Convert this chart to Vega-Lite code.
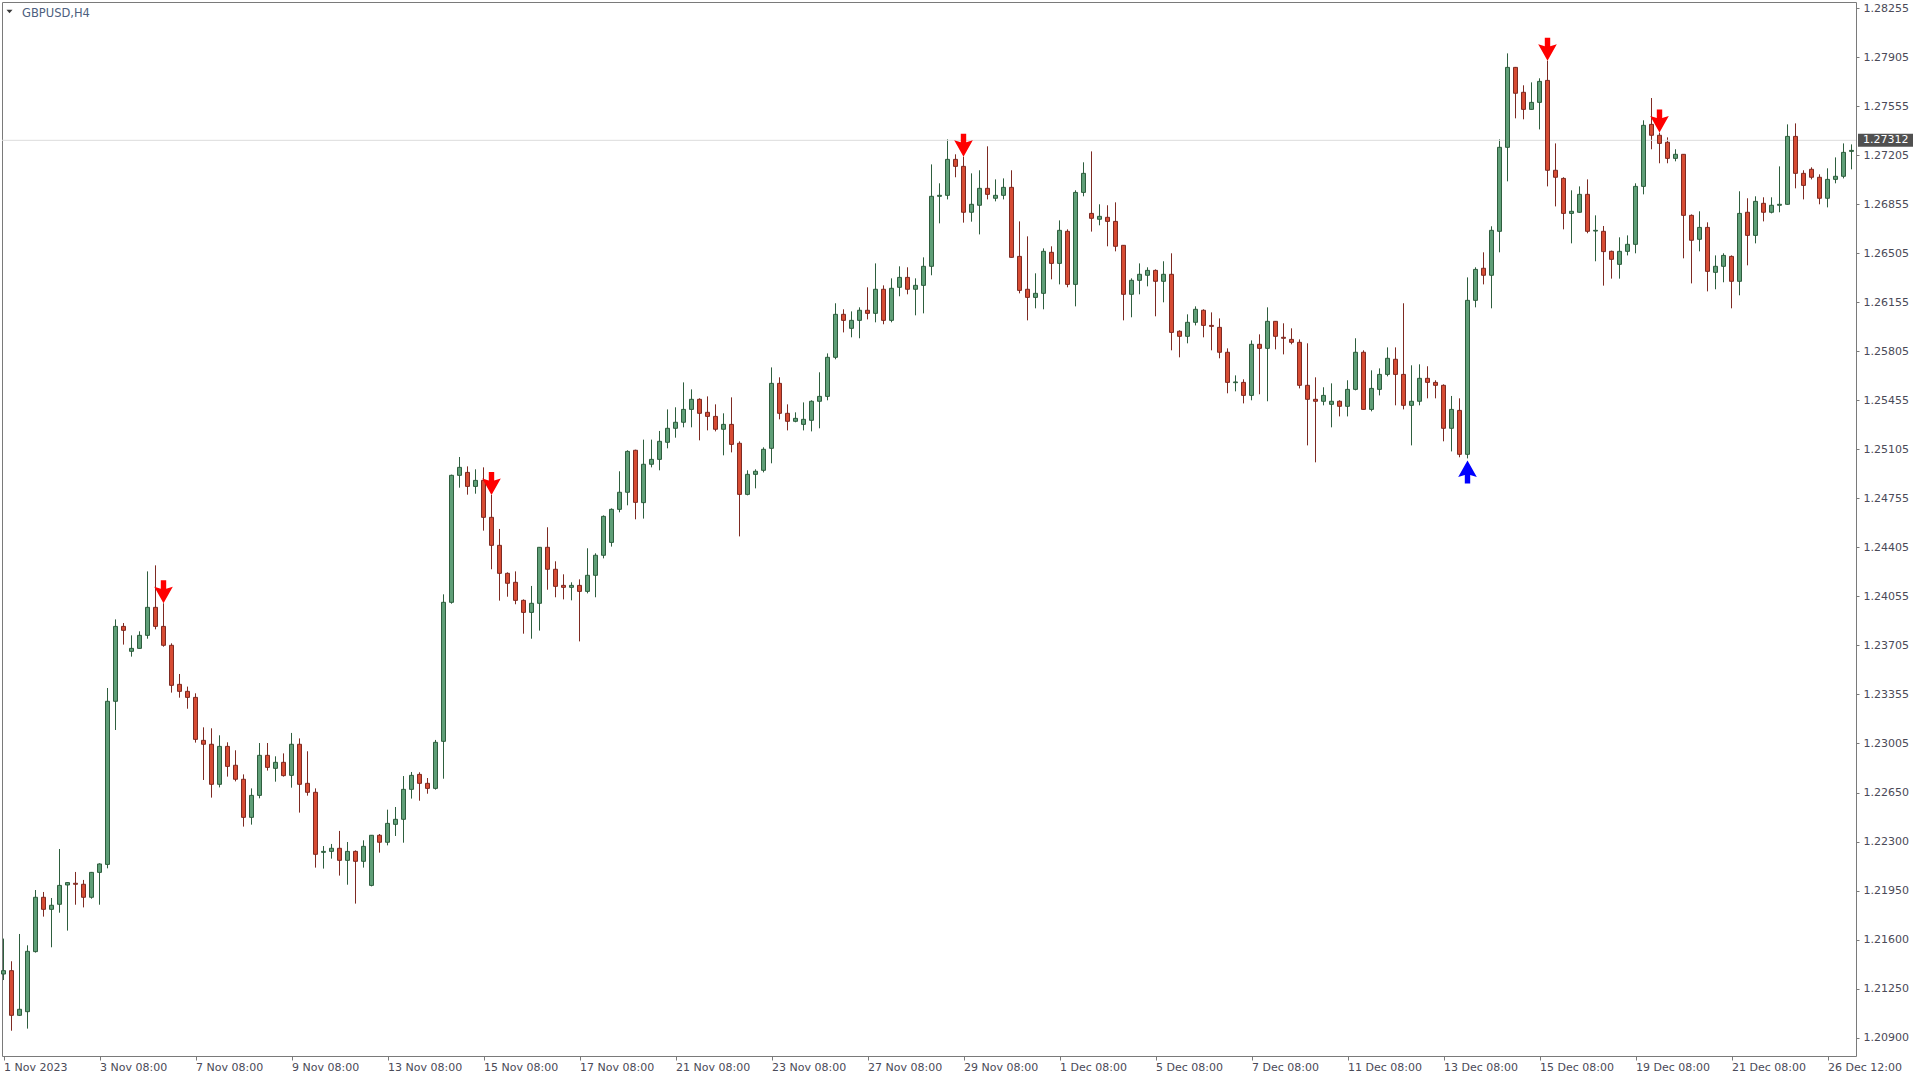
{
"$schema": "https://vega.github.io/schema/vega-lite/v6.json",
"width": 1854,
"height": 1054,
"autosize": {"type": "none"},
"padding": {"left": 2, "top": 2, "right": 64, "bottom": 24},
"background": "white",
"config": {
"view": {"stroke": "#7a7a7a", "strokeWidth": 1},
"font": "DejaVu Sans",
"scale": {"continuousPadding": 0},
"axis": {"grid": false, "domain": false, "tickColor": "#7a7a7a", "labelFont": "DejaVu Sans", "labelFontSize": 11, "labelColor": "#4a4a58", "labelOverlap": false, "labelBound": false, "labelFlush": false},
"axisX": {"tickSize": 4, "labelPadding": 1, "labelAlign": "left", "labelBaseline": "top"},
"axisY": {"tickSize": 3, "labelPadding": 4, "labelAlign": "left", "labelBaseline": "middle"}
},
"datasets": {
"px": [{"p": 1.27312}],
"sym": [{"name": "GBPUSD,H4"}],
"bars": [
{"i":0,"o":1.21357,"h":1.21610,"l":1.21314,"c":1.21381},
{"i":1,"o":1.21381,"h":1.21448,"l":1.20952,"c":1.21062},
{"i":2,"o":1.21062,"h":1.21643,"l":1.21057,"c":1.21105},
{"i":3,"o":1.21088,"h":1.21562,"l":1.20967,"c":1.21519},
{"i":4,"o":1.21517,"h":1.21957,"l":1.21510,"c":1.21905},
{"i":5,"o":1.21905,"h":1.21943,"l":1.21767,"c":1.21819},
{"i":6,"o":1.21819,"h":1.21900,"l":1.21548,"c":1.21848},
{"i":7,"o":1.21855,"h":1.22250,"l":1.21795,"c":1.21990},
{"i":8,"o":1.21993,"h":1.22014,"l":1.21667,"c":1.22010},
{"i":9,"o":1.22005,"h":1.22086,"l":1.21852,"c":1.21998},
{"i":10,"o":1.21998,"h":1.22029,"l":1.21833,"c":1.21905},
{"i":11,"o":1.21905,"h":1.22086,"l":1.21895,"c":1.22083},
{"i":12,"o":1.22083,"h":1.22148,"l":1.21852,"c":1.22143},
{"i":13,"o":1.22140,"h":1.23400,"l":1.22112,"c":1.23305},
{"i":14,"o":1.23305,"h":1.23890,"l":1.23100,"c":1.23840},
{"i":15,"o":1.23840,"h":1.23864,"l":1.23710,"c":1.23812},
{"i":16,"o":1.23662,"h":1.23776,"l":1.23624,"c":1.23683},
{"i":17,"o":1.23683,"h":1.23805,"l":1.23681,"c":1.23776},
{"i":18,"o":1.23776,"h":1.24233,"l":1.23752,"c":1.23976},
{"i":19,"o":1.23976,"h":1.24276,"l":1.23819,"c":1.23840},
{"i":20,"o":1.23840,"h":1.24005,"l":1.23695,"c":1.23705,"s":"d"},
{"i":21,"o":1.23705,"h":1.23719,"l":1.23367,"c":1.23419},
{"i":22,"o":1.23426,"h":1.23500,"l":1.23331,"c":1.23376},
{"i":23,"o":1.23376,"h":1.23410,"l":1.23252,"c":1.23333},
{"i":24,"o":1.23333,"h":1.23362,"l":1.23010,"c":1.23033},
{"i":25,"o":1.23026,"h":1.23119,"l":1.22743,"c":1.22998},
{"i":26,"o":1.22998,"h":1.23112,"l":1.22617,"c":1.22712},
{"i":27,"o":1.22712,"h":1.23062,"l":1.22690,"c":1.22983},
{"i":28,"o":1.22983,"h":1.23012,"l":1.22767,"c":1.22840},
{"i":29,"o":1.22848,"h":1.22955,"l":1.22733,"c":1.22748},
{"i":30,"o":1.22748,"h":1.22783,"l":1.22410,"c":1.22476},
{"i":31,"o":1.22476,"h":1.22683,"l":1.22424,"c":1.22633},
{"i":32,"o":1.22633,"h":1.23007,"l":1.22612,"c":1.22919},
{"i":33,"o":1.22919,"h":1.23007,"l":1.22810,"c":1.22833},
{"i":34,"o":1.22826,"h":1.22912,"l":1.22731,"c":1.22869},
{"i":35,"o":1.22869,"h":1.22933,"l":1.22767,"c":1.22774},
{"i":36,"o":1.22776,"h":1.23079,"l":1.22688,"c":1.22998},
{"i":37,"o":1.22998,"h":1.23040,"l":1.22510,"c":1.22712},
{"i":38,"o":1.22719,"h":1.22948,"l":1.22631,"c":1.22655},
{"i":39,"o":1.22655,"h":1.22683,"l":1.22117,"c":1.22212},
{"i":40,"o":1.22226,"h":1.22271,"l":1.22110,"c":1.22233},
{"i":41,"o":1.22233,"h":1.22286,"l":1.22181,"c":1.22255},
{"i":42,"o":1.22255,"h":1.22379,"l":1.22060,"c":1.22169},
{"i":43,"o":1.22169,"h":1.22300,"l":1.21995,"c":1.22233},
{"i":44,"o":1.22233,"h":1.22240,"l":1.21860,"c":1.22162},
{"i":45,"o":1.22162,"h":1.22312,"l":1.22117,"c":1.22269},
{"i":46,"o":1.21990,"h":1.22350,"l":1.21983,"c":1.22348},
{"i":47,"o":1.22348,"h":1.22357,"l":1.22224,"c":1.22298},
{"i":48,"o":1.22298,"h":1.22531,"l":1.22276,"c":1.22433},
{"i":49,"o":1.22426,"h":1.22550,"l":1.22343,"c":1.22462},
{"i":50,"o":1.22462,"h":1.22771,"l":1.22295,"c":1.22676},
{"i":51,"o":1.22676,"h":1.22800,"l":1.22610,"c":1.22776},
{"i":52,"o":1.22783,"h":1.22798,"l":1.22595,"c":1.22719},
{"i":53,"o":1.22719,"h":1.22757,"l":1.22645,"c":1.22683},
{"i":54,"o":1.22683,"h":1.23029,"l":1.22674,"c":1.23012},
{"i":55,"o":1.23019,"h":1.24069,"l":1.22752,"c":1.24012},
{"i":56,"o":1.24012,"h":1.24924,"l":1.24002,"c":1.24919},
{"i":57,"o":1.24919,"h":1.25050,"l":1.24831,"c":1.24976},
{"i":58,"o":1.24940,"h":1.24983,"l":1.24781,"c":1.24840},
{"i":59,"o":1.24840,"h":1.24962,"l":1.24788,"c":1.24883},
{"i":60,"o":1.24883,"h":1.24976,"l":1.24524,"c":1.24619},
{"i":61,"o":1.24619,"h":1.24779,"l":1.24248,"c":1.24419,"s":"d"},
{"i":62,"o":1.24419,"h":1.24536,"l":1.24024,"c":1.24219},
{"i":63,"o":1.24219,"h":1.24226,"l":1.24052,"c":1.24148},
{"i":64,"o":1.24155,"h":1.24233,"l":1.23998,"c":1.24026},
{"i":65,"o":1.24026,"h":1.24033,"l":1.23788,"c":1.23940},
{"i":66,"o":1.23940,"h":1.24129,"l":1.23752,"c":1.24005},
{"i":67,"o":1.24005,"h":1.24407,"l":1.23810,"c":1.24405},
{"i":68,"o":1.24405,"h":1.24548,"l":1.24102,"c":1.24248},
{"i":69,"o":1.24248,"h":1.24305,"l":1.24048,"c":1.24126},
{"i":70,"o":1.24133,"h":1.24212,"l":1.24033,"c":1.24119},
{"i":71,"o":1.24119,"h":1.24155,"l":1.24026,"c":1.24133},
{"i":72,"o":1.24133,"h":1.24176,"l":1.23733,"c":1.24090},
{"i":73,"o":1.24090,"h":1.24398,"l":1.24076,"c":1.24205},
{"i":74,"o":1.24205,"h":1.24362,"l":1.24048,"c":1.24348},
{"i":75,"o":1.24348,"h":1.24633,"l":1.24326,"c":1.24626},
{"i":76,"o":1.24440,"h":1.24683,"l":1.24410,"c":1.24676},
{"i":77,"o":1.24676,"h":1.24948,"l":1.24655,"c":1.24798},
{"i":78,"o":1.24798,"h":1.25098,"l":1.24705,"c":1.25090},
{"i":79,"o":1.25098,"h":1.25102,"l":1.24605,"c":1.24726},
{"i":80,"o":1.24724,"h":1.25174,"l":1.24610,"c":1.24998},
{"i":81,"o":1.24998,"h":1.25174,"l":1.24976,"c":1.25033},
{"i":82,"o":1.25033,"h":1.25236,"l":1.24955,"c":1.25162},
{"i":83,"o":1.25155,"h":1.25390,"l":1.25112,"c":1.25255},
{"i":84,"o":1.25255,"h":1.25405,"l":1.25188,"c":1.25298},
{"i":85,"o":1.25298,"h":1.25583,"l":1.25262,"c":1.25390},
{"i":86,"o":1.25390,"h":1.25533,"l":1.25262,"c":1.25462},
{"i":87,"o":1.25462,"h":1.25469,"l":1.25169,"c":1.25362},
{"i":88,"o":1.25369,"h":1.25483,"l":1.25240,"c":1.25340},
{"i":89,"o":1.25340,"h":1.25426,"l":1.25233,"c":1.25248},
{"i":90,"o":1.25248,"h":1.25362,"l":1.25062,"c":1.25283},
{"i":91,"o":1.25283,"h":1.25476,"l":1.25083,"c":1.25140},
{"i":92,"o":1.25148,"h":1.25162,"l":1.24483,"c":1.24783},
{"i":93,"o":1.24783,"h":1.24955,"l":1.24776,"c":1.24926},
{"i":94,"o":1.24926,"h":1.24962,"l":1.24826,"c":1.24948},
{"i":95,"o":1.24955,"h":1.25119,"l":1.24940,"c":1.25105},
{"i":96,"o":1.25112,"h":1.25690,"l":1.25005,"c":1.25576},
{"i":97,"o":1.25576,"h":1.25619,"l":1.25319,"c":1.25362},
{"i":98,"o":1.25362,"h":1.25426,"l":1.25240,"c":1.25305},
{"i":99,"o":1.25305,"h":1.25369,"l":1.25298,"c":1.25326},
{"i":100,"o":1.25283,"h":1.25440,"l":1.25240,"c":1.25319},
{"i":101,"o":1.25312,"h":1.25455,"l":1.25233,"c":1.25448},
{"i":102,"o":1.25448,"h":1.25655,"l":1.25255,"c":1.25483},
{"i":103,"o":1.25483,"h":1.25790,"l":1.25455,"c":1.25762},
{"i":104,"o":1.25762,"h":1.26148,"l":1.25748,"c":1.26069},
{"i":105,"o":1.26069,"h":1.26105,"l":1.25940,"c":1.26026},
{"i":106,"o":1.25969,"h":1.26090,"l":1.25905,"c":1.26026},
{"i":107,"o":1.26026,"h":1.26119,"l":1.25898,"c":1.26098},
{"i":108,"o":1.26098,"h":1.26262,"l":1.26033,"c":1.26076},
{"i":109,"o":1.26076,"h":1.26433,"l":1.26012,"c":1.26248},
{"i":110,"o":1.26248,"h":1.26276,"l":1.25998,"c":1.26026},
{"i":111,"o":1.26026,"h":1.26326,"l":1.26012,"c":1.26255},
{"i":112,"o":1.26262,"h":1.26412,"l":1.26198,"c":1.26333},
{"i":113,"o":1.26333,"h":1.26405,"l":1.26212,"c":1.26248},
{"i":114,"o":1.26248,"h":1.26326,"l":1.26062,"c":1.26276},
{"i":115,"o":1.26276,"h":1.26476,"l":1.26076,"c":1.26412},
{"i":116,"o":1.26412,"h":1.27140,"l":1.26348,"c":1.26912},
{"i":117,"o":1.26912,"h":1.27005,"l":1.26719,"c":1.26919},
{"i":118,"o":1.26919,"h":1.27319,"l":1.26890,"c":1.27176},
{"i":119,"o":1.27176,"h":1.27212,"l":1.27048,"c":1.27126},
{"i":120,"o":1.27126,"h":1.27195,"l":1.26724,"c":1.26798,"s":"d"},
{"i":121,"o":1.26798,"h":1.27076,"l":1.26731,"c":1.26855},
{"i":122,"o":1.26848,"h":1.27098,"l":1.26640,"c":1.26969},
{"i":123,"o":1.26969,"h":1.27269,"l":1.26890,"c":1.26926},
{"i":124,"o":1.26898,"h":1.27033,"l":1.26876,"c":1.26919},
{"i":125,"o":1.26919,"h":1.27040,"l":1.26890,"c":1.26976},
{"i":126,"o":1.26976,"h":1.27098,"l":1.26474,"c":1.26476},
{"i":127,"o":1.26483,"h":1.26733,"l":1.26219,"c":1.26240},
{"i":128,"o":1.26248,"h":1.26626,"l":1.26026,"c":1.26190},
{"i":129,"o":1.26190,"h":1.26362,"l":1.26112,"c":1.26219},
{"i":130,"o":1.26219,"h":1.26540,"l":1.26105,"c":1.26519},
{"i":131,"o":1.26512,"h":1.26555,"l":1.26319,"c":1.26433},
{"i":132,"o":1.26433,"h":1.26740,"l":1.26283,"c":1.26669},
{"i":133,"o":1.26662,"h":1.26676,"l":1.26262,"c":1.26283},
{"i":134,"o":1.26283,"h":1.26955,"l":1.26126,"c":1.26940},
{"i":135,"o":1.26940,"h":1.27155,"l":1.26912,"c":1.27076},
{"i":136,"o":1.26790,"h":1.27233,"l":1.26660,"c":1.26755},
{"i":137,"o":1.26748,"h":1.26855,"l":1.26705,"c":1.26769},
{"i":138,"o":1.26762,"h":1.26848,"l":1.26555,"c":1.26733},
{"i":139,"o":1.26733,"h":1.26869,"l":1.26519,"c":1.26555},
{"i":140,"o":1.26562,"h":1.26564,"l":1.26026,"c":1.26212},
{"i":141,"o":1.26212,"h":1.26326,"l":1.26048,"c":1.26312},
{"i":142,"o":1.26312,"h":1.26433,"l":1.26212,"c":1.26355},
{"i":143,"o":1.26348,"h":1.26405,"l":1.26269,"c":1.26383},
{"i":144,"o":1.26383,"h":1.26390,"l":1.26055,"c":1.26305},
{"i":145,"o":1.26305,"h":1.26448,"l":1.26155,"c":1.26355},
{"i":146,"o":1.26355,"h":1.26505,"l":1.25812,"c":1.25940},
{"i":147,"o":1.25948,"h":1.25955,"l":1.25762,"c":1.25912},
{"i":148,"o":1.25912,"h":1.26069,"l":1.25862,"c":1.26012},
{"i":149,"o":1.26012,"h":1.26126,"l":1.25990,"c":1.26105},
{"i":150,"o":1.26098,"h":1.26105,"l":1.25905,"c":1.25990},
{"i":151,"o":1.25990,"h":1.26083,"l":1.25812,"c":1.25983},
{"i":152,"o":1.25976,"h":1.26040,"l":1.25755,"c":1.25798},
{"i":153,"o":1.25798,"h":1.25826,"l":1.25505,"c":1.25583},
{"i":154,"o":1.25581,"h":1.25633,"l":1.25519,"c":1.25586},
{"i":155,"o":1.25583,"h":1.25605,"l":1.25433,"c":1.25490},
{"i":156,"o":1.25490,"h":1.25883,"l":1.25455,"c":1.25855},
{"i":157,"o":1.25855,"h":1.25926,"l":1.25498,"c":1.25826},
{"i":158,"o":1.25826,"h":1.26119,"l":1.25448,"c":1.26019},
{"i":159,"o":1.26019,"h":1.26021,"l":1.25819,"c":1.25912},
{"i":160,"o":1.25905,"h":1.26005,"l":1.25783,"c":1.25898},
{"i":161,"o":1.25890,"h":1.25969,"l":1.25855,"c":1.25869},
{"i":162,"o":1.25869,"h":1.25890,"l":1.25540,"c":1.25562},
{"i":163,"o":1.25562,"h":1.25862,"l":1.25133,"c":1.25462},
{"i":164,"o":1.25462,"h":1.25619,"l":1.25012,"c":1.25448},
{"i":165,"o":1.25448,"h":1.25548,"l":1.25419,"c":1.25490},
{"i":166,"o":1.25426,"h":1.25576,"l":1.25262,"c":1.25448},
{"i":167,"o":1.25448,"h":1.25455,"l":1.25340,"c":1.25412},
{"i":168,"o":1.25412,"h":1.25598,"l":1.25340,"c":1.25533},
{"i":169,"o":1.25533,"h":1.25898,"l":1.25526,"c":1.25798},
{"i":170,"o":1.25798,"h":1.25812,"l":1.25388,"c":1.25390},
{"i":171,"o":1.25390,"h":1.25669,"l":1.25376,"c":1.25540},
{"i":172,"o":1.25533,"h":1.25683,"l":1.25490,"c":1.25640},
{"i":173,"o":1.25640,"h":1.25833,"l":1.25626,"c":1.25755},
{"i":174,"o":1.25748,"h":1.25833,"l":1.25419,"c":1.25640},
{"i":175,"o":1.25640,"h":1.26148,"l":1.25390,"c":1.25419},
{"i":176,"o":1.25419,"h":1.25705,"l":1.25133,"c":1.25448},
{"i":177,"o":1.25448,"h":1.25712,"l":1.25419,"c":1.25612},
{"i":178,"o":1.25612,"h":1.25698,"l":1.25469,"c":1.25583},
{"i":179,"o":1.25583,"h":1.25598,"l":1.25469,"c":1.25562},
{"i":180,"o":1.25562,"h":1.25569,"l":1.25162,"c":1.25255},
{"i":181,"o":1.25255,"h":1.25486,"l":1.25090,"c":1.25390},
{"i":182,"o":1.25383,"h":1.25469,"l":1.25048,"c":1.25069},
{"i":183,"o":1.25069,"h":1.26333,"l":1.25040,"c":1.26169,"s":"u"},
{"i":184,"o":1.26169,"h":1.26405,"l":1.26119,"c":1.26390},
{"i":185,"o":1.26398,"h":1.26512,"l":1.26283,"c":1.26348},
{"i":186,"o":1.26348,"h":1.26698,"l":1.26112,"c":1.26669},
{"i":187,"o":1.26662,"h":1.27319,"l":1.26512,"c":1.27262},
{"i":188,"o":1.27262,"h":1.27933,"l":1.27019,"c":1.27833},
{"i":189,"o":1.27833,"h":1.27836,"l":1.27469,"c":1.27648},
{"i":190,"o":1.27655,"h":1.27705,"l":1.27462,"c":1.27533},
{"i":191,"o":1.27533,"h":1.27726,"l":1.27531,"c":1.27583},
{"i":192,"o":1.27583,"h":1.27755,"l":1.27390,"c":1.27733},
{"i":193,"o":1.27740,"h":1.27881,"l":1.26983,"c":1.27098,"s":"d"},
{"i":194,"o":1.27098,"h":1.27290,"l":1.26840,"c":1.27048},
{"i":195,"o":1.27040,"h":1.27048,"l":1.26676,"c":1.26790},
{"i":196,"o":1.26790,"h":1.26955,"l":1.26576,"c":1.26805},
{"i":197,"o":1.26798,"h":1.26983,"l":1.26795,"c":1.26926},
{"i":198,"o":1.26926,"h":1.27033,"l":1.26648,"c":1.26662},
{"i":199,"o":1.26664,"h":1.26776,"l":1.26448,"c":1.26669},
{"i":200,"o":1.26662,"h":1.26700,"l":1.26274,"c":1.26517},
{"i":201,"o":1.26519,"h":1.26524,"l":1.26324,"c":1.26462},
{"i":202,"o":1.26426,"h":1.26619,"l":1.26324,"c":1.26519},
{"i":203,"o":1.26519,"h":1.26633,"l":1.26490,"c":1.26569},
{"i":204,"o":1.26569,"h":1.27005,"l":1.26505,"c":1.26983},
{"i":205,"o":1.26983,"h":1.27455,"l":1.26926,"c":1.27419},
{"i":206,"o":1.27426,"h":1.27614,"l":1.27248,"c":1.27348},
{"i":207,"o":1.27348,"h":1.27367,"l":1.27148,"c":1.27290,"s":"d"},
{"i":208,"o":1.27298,"h":1.27333,"l":1.27148,"c":1.27183},
{"i":209,"o":1.27183,"h":1.27248,"l":1.27162,"c":1.27212},
{"i":210,"o":1.27212,"h":1.27214,"l":1.26469,"c":1.26776},
{"i":211,"o":1.26776,"h":1.26783,"l":1.26290,"c":1.26598},
{"i":212,"o":1.26605,"h":1.26805,"l":1.26519,"c":1.26690},
{"i":213,"o":1.26690,"h":1.26726,"l":1.26233,"c":1.26376},
{"i":214,"o":1.26369,"h":1.26490,"l":1.26248,"c":1.26412},
{"i":215,"o":1.26412,"h":1.26505,"l":1.26298,"c":1.26490},
{"i":216,"o":1.26483,"h":1.26490,"l":1.26112,"c":1.26305},
{"i":217,"o":1.26305,"h":1.26948,"l":1.26205,"c":1.26790},
{"i":218,"o":1.26798,"h":1.26898,"l":1.26419,"c":1.26633},
{"i":219,"o":1.26633,"h":1.26912,"l":1.26576,"c":1.26876},
{"i":220,"o":1.26862,"h":1.26905,"l":1.26733,"c":1.26798},
{"i":221,"o":1.26798,"h":1.26905,"l":1.26790,"c":1.26848},
{"i":222,"o":1.26848,"h":1.27126,"l":1.26798,"c":1.26855},
{"i":223,"o":1.26855,"h":1.27426,"l":1.26852,"c":1.27340},
{"i":224,"o":1.27340,"h":1.27433,"l":1.26969,"c":1.27076},
{"i":225,"o":1.27076,"h":1.27098,"l":1.26890,"c":1.26990},
{"i":226,"o":1.27105,"h":1.27119,"l":1.27033,"c":1.27048},
{"i":227,"o":1.27048,"h":1.27069,"l":1.26855,"c":1.26898},
{"i":228,"o":1.26898,"h":1.27112,"l":1.26833,"c":1.27033},
{"i":229,"o":1.27033,"h":1.27190,"l":1.27005,"c":1.27055},
{"i":230,"o":1.27055,"h":1.27290,"l":1.27040,"c":1.27226},
{"i":231,"o":1.27233,"h":1.27283,"l":1.27105,"c":1.27240}
]
},
"layer": [
{
"data": {"name": "bars"},
"mark": {"type": "rule", "strokeWidth": 1},
"encoding": {
"x": {"field": "i", "type": "quantitative", "scale": {"domain": [-0.1875, 231.5625], "nice": false, "zero": false, "padding": 0},
"axis": {"title": null, "values": [0,12,24,36,48,60,72,84,96,108,120,132,144,156,168,180,192,204,216,228],
"labelExpr": "['1 Nov 2023','3 Nov 08:00','7 Nov 08:00','9 Nov 08:00','13 Nov 08:00','15 Nov 08:00','17 Nov 08:00','21 Nov 08:00','23 Nov 08:00','27 Nov 08:00','29 Nov 08:00','1 Dec 08:00','5 Dec 08:00','7 Dec 08:00','11 Dec 08:00','13 Dec 08:00','15 Dec 08:00','19 Dec 08:00','21 Dec 08:00','26 Dec 12:00'][round(datum.value/12)]"}},
"y": {"field": "l", "type": "quantitative", "scale": {"domain": [1.207714, 1.283], "nice": false, "zero": false, "padding": 0},
"axis": {"title": null, "orient": "right", "format": ".5f", "values": [1.209,1.2125,1.216,1.2195,1.223,1.2265,1.23005,1.23355,1.23705,1.24055,1.24405,1.24755,1.25105,1.25455,1.25805,1.26155,1.26505,1.26855,1.27205,1.27555,1.27905,1.28255]}},
"y2": {"field": "h"},
"color": {"condition": {"test": "datum.c >= datum.o", "value": "#2e5e3e"}, "value": "#7e2a22"}
}
},
{
"data": {"name": "px"},
"mark": {"type": "rule", "color": "#dcdcdc", "strokeWidth": 1},
"encoding": {
"y": {"field": "p", "type": "quantitative", "scale": {"domain": [1.207714, 1.283], "nice": false, "zero": false, "padding": 0},
"axis": {"title": null, "orient": "right", "format": ".5f", "values": [1.209,1.2125,1.216,1.2195,1.223,1.2265,1.23005,1.23355,1.23705,1.24055,1.24405,1.24755,1.25105,1.25455,1.25805,1.26155,1.26505,1.26855,1.27205,1.27555,1.27905,1.28255]}}
}
},
{
"data": {"name": "bars"},
"mark": {"type": "bar", "width": 4, "strokeWidth": 1},
"encoding": {
"x": {"field": "i", "type": "quantitative", "scale": {"domain": [-0.1875, 231.5625], "nice": false, "zero": false, "padding": 0},
"axis": {"title": null, "values": [0,12,24,36,48,60,72,84,96,108,120,132,144,156,168,180,192,204,216,228],
"labelExpr": "['1 Nov 2023','3 Nov 08:00','7 Nov 08:00','9 Nov 08:00','13 Nov 08:00','15 Nov 08:00','17 Nov 08:00','21 Nov 08:00','23 Nov 08:00','27 Nov 08:00','29 Nov 08:00','1 Dec 08:00','5 Dec 08:00','7 Dec 08:00','11 Dec 08:00','13 Dec 08:00','15 Dec 08:00','19 Dec 08:00','21 Dec 08:00','26 Dec 12:00'][round(datum.value/12)]"}},
"y": {"field": "o", "type": "quantitative", "scale": {"domain": [1.207714, 1.283], "nice": false, "zero": false, "padding": 0},
"axis": {"title": null, "orient": "right", "format": ".5f", "values": [1.209,1.2125,1.216,1.2195,1.223,1.2265,1.23005,1.23355,1.23705,1.24055,1.24405,1.24755,1.25105,1.25455,1.25805,1.26155,1.26505,1.26855,1.27205,1.27555,1.27905,1.28255]}},
"y2": {"field": "c"},
"fill": {"condition": {"test": "datum.c >= datum.o", "value": "#5f9e77"}, "value": "#d64b33"},
"stroke": {"condition": {"test": "datum.c >= datum.o", "value": "#2e5e3e"}, "value": "#7e2a22"}
}
},
{
"data": {"name": "bars"},
"transform": [{"filter": "datum.s == 'd'"}],
"mark": {"type": "point", "shape": "M-2.7,-11.5H2.7V-3L9.3,-5L0,11.5L-9.3,-5L-2.7,-3Z", "size": 4, "filled": true, "color": "#ff0000", "opacity": 1, "strokeWidth": 0, "yOffset": -11.5},
"encoding": {
"x": {"field": "i", "type": "quantitative", "scale": {"domain": [-0.1875, 231.5625], "nice": false, "zero": false, "padding": 0},
"axis": {"title": null, "values": [0,12,24,36,48,60,72,84,96,108,120,132,144,156,168,180,192,204,216,228],
"labelExpr": "['1 Nov 2023','3 Nov 08:00','7 Nov 08:00','9 Nov 08:00','13 Nov 08:00','15 Nov 08:00','17 Nov 08:00','21 Nov 08:00','23 Nov 08:00','27 Nov 08:00','29 Nov 08:00','1 Dec 08:00','5 Dec 08:00','7 Dec 08:00','11 Dec 08:00','13 Dec 08:00','15 Dec 08:00','19 Dec 08:00','21 Dec 08:00','26 Dec 12:00'][round(datum.value/12)]"}},
"y": {"field": "h", "type": "quantitative", "scale": {"domain": [1.207714, 1.283], "nice": false, "zero": false, "padding": 0},
"axis": {"title": null, "orient": "right", "format": ".5f", "values": [1.209,1.2125,1.216,1.2195,1.223,1.2265,1.23005,1.23355,1.23705,1.24055,1.24405,1.24755,1.25105,1.25455,1.25805,1.26155,1.26505,1.26855,1.27205,1.27555,1.27905,1.28255]}}
}
},
{
"data": {"name": "bars"},
"transform": [{"filter": "datum.s == 'u'"}],
"mark": {"type": "point", "shape": "M-2.7,11.5H2.7V3L9.3,5L0,-11.5L-9.3,5L-2.7,3Z", "size": 4, "filled": true, "color": "#0000ff", "opacity": 1, "strokeWidth": 0, "yOffset": 13.5},
"encoding": {
"x": {"field": "i", "type": "quantitative", "scale": {"domain": [-0.1875, 231.5625], "nice": false, "zero": false, "padding": 0},
"axis": {"title": null, "values": [0,12,24,36,48,60,72,84,96,108,120,132,144,156,168,180,192,204,216,228],
"labelExpr": "['1 Nov 2023','3 Nov 08:00','7 Nov 08:00','9 Nov 08:00','13 Nov 08:00','15 Nov 08:00','17 Nov 08:00','21 Nov 08:00','23 Nov 08:00','27 Nov 08:00','29 Nov 08:00','1 Dec 08:00','5 Dec 08:00','7 Dec 08:00','11 Dec 08:00','13 Dec 08:00','15 Dec 08:00','19 Dec 08:00','21 Dec 08:00','26 Dec 12:00'][round(datum.value/12)]"}},
"y": {"field": "l", "type": "quantitative", "scale": {"domain": [1.207714, 1.283], "nice": false, "zero": false, "padding": 0},
"axis": {"title": null, "orient": "right", "format": ".5f", "values": [1.209,1.2125,1.216,1.2195,1.223,1.2265,1.23005,1.23355,1.23705,1.24055,1.24405,1.24755,1.25105,1.25455,1.25805,1.26155,1.26505,1.26855,1.27205,1.27555,1.27905,1.28255]}}
}
},
{
"data": {"name": "px"},
"mark": {"type": "point", "shape": "M-27.5,-6.5H27.5V6.5H-27.5Z", "size": 4, "filled": true, "color": "#505050", "opacity": 1, "strokeWidth": 0, "xOffset": 29.5},
"encoding": {
"x": {"datum": 231.5625, "type": "quantitative", "scale": {"domain": [-0.1875, 231.5625], "nice": false, "zero": false, "padding": 0},
"axis": {"title": null, "values": [0,12,24,36,48,60,72,84,96,108,120,132,144,156,168,180,192,204,216,228],
"labelExpr": "['1 Nov 2023','3 Nov 08:00','7 Nov 08:00','9 Nov 08:00','13 Nov 08:00','15 Nov 08:00','17 Nov 08:00','21 Nov 08:00','23 Nov 08:00','27 Nov 08:00','29 Nov 08:00','1 Dec 08:00','5 Dec 08:00','7 Dec 08:00','11 Dec 08:00','13 Dec 08:00','15 Dec 08:00','19 Dec 08:00','21 Dec 08:00','26 Dec 12:00'][round(datum.value/12)]"}},
"y": {"field": "p", "type": "quantitative", "scale": {"domain": [1.207714, 1.283], "nice": false, "zero": false, "padding": 0},
"axis": {"title": null, "orient": "right", "format": ".5f", "values": [1.209,1.2125,1.216,1.2195,1.223,1.2265,1.23005,1.23355,1.23705,1.24055,1.24405,1.24755,1.25105,1.25455,1.25805,1.26155,1.26505,1.26855,1.27205,1.27555,1.27905,1.28255]}}
}
},
{
"data": {"name": "px"},
"mark": {"type": "text", "align": "left", "baseline": "middle", "dx": 7, "font": "DejaVu Sans", "fontSize": 11, "color": "#ffffff"},
"encoding": {
"x": {"datum": 231.5625, "type": "quantitative", "scale": {"domain": [-0.1875, 231.5625], "nice": false, "zero": false, "padding": 0},
"axis": {"title": null, "values": [0,12,24,36,48,60,72,84,96,108,120,132,144,156,168,180,192,204,216,228],
"labelExpr": "['1 Nov 2023','3 Nov 08:00','7 Nov 08:00','9 Nov 08:00','13 Nov 08:00','15 Nov 08:00','17 Nov 08:00','21 Nov 08:00','23 Nov 08:00','27 Nov 08:00','29 Nov 08:00','1 Dec 08:00','5 Dec 08:00','7 Dec 08:00','11 Dec 08:00','13 Dec 08:00','15 Dec 08:00','19 Dec 08:00','21 Dec 08:00','26 Dec 12:00'][round(datum.value/12)]"}},
"y": {"field": "p", "type": "quantitative", "scale": {"domain": [1.207714, 1.283], "nice": false, "zero": false, "padding": 0},
"axis": {"title": null, "orient": "right", "format": ".5f", "values": [1.209,1.2125,1.216,1.2195,1.223,1.2265,1.23005,1.23355,1.23705,1.24055,1.24405,1.24755,1.25105,1.25455,1.25805,1.26155,1.26505,1.26855,1.27205,1.27555,1.27905,1.28255]}},
"text": {"field": "p", "type": "quantitative", "format": ".5f"}
}
},
{
"data": {"name": "sym"},
"mark": {"type": "point", "shape": "M-3,-1.7H3L0,1.7Z", "size": 4, "filled": true, "color": "#3a3a3a", "opacity": 1, "strokeWidth": 0, "xOffset": 7.5, "yOffset": 9.5},
"encoding": {
"x": {"datum": -0.1875, "type": "quantitative", "scale": {"domain": [-0.1875, 231.5625], "nice": false, "zero": false, "padding": 0},
"axis": {"title": null, "values": [0,12,24,36,48,60,72,84,96,108,120,132,144,156,168,180,192,204,216,228],
"labelExpr": "['1 Nov 2023','3 Nov 08:00','7 Nov 08:00','9 Nov 08:00','13 Nov 08:00','15 Nov 08:00','17 Nov 08:00','21 Nov 08:00','23 Nov 08:00','27 Nov 08:00','29 Nov 08:00','1 Dec 08:00','5 Dec 08:00','7 Dec 08:00','11 Dec 08:00','13 Dec 08:00','15 Dec 08:00','19 Dec 08:00','21 Dec 08:00','26 Dec 12:00'][round(datum.value/12)]"}},
"y": {"datum": 1.283, "type": "quantitative", "scale": {"domain": [1.207714, 1.283], "nice": false, "zero": false, "padding": 0},
"axis": {"title": null, "orient": "right", "format": ".5f", "values": [1.209,1.2125,1.216,1.2195,1.223,1.2265,1.23005,1.23355,1.23705,1.24055,1.24405,1.24755,1.25105,1.25455,1.25805,1.26155,1.26505,1.26855,1.27205,1.27555,1.27905,1.28255]}}
}
},
{
"data": {"name": "sym"},
"mark": {"type": "text", "align": "left", "baseline": "alphabetic", "dx": 20, "dy": 14.5, "font": "DejaVu Sans", "fontSize": 11.5, "color": "#4e5f80"},
"encoding": {
"x": {"datum": -0.1875, "type": "quantitative", "scale": {"domain": [-0.1875, 231.5625], "nice": false, "zero": false, "padding": 0},
"axis": {"title": null, "values": [0,12,24,36,48,60,72,84,96,108,120,132,144,156,168,180,192,204,216,228],
"labelExpr": "['1 Nov 2023','3 Nov 08:00','7 Nov 08:00','9 Nov 08:00','13 Nov 08:00','15 Nov 08:00','17 Nov 08:00','21 Nov 08:00','23 Nov 08:00','27 Nov 08:00','29 Nov 08:00','1 Dec 08:00','5 Dec 08:00','7 Dec 08:00','11 Dec 08:00','13 Dec 08:00','15 Dec 08:00','19 Dec 08:00','21 Dec 08:00','26 Dec 12:00'][round(datum.value/12)]"}},
"y": {"datum": 1.283, "type": "quantitative", "scale": {"domain": [1.207714, 1.283], "nice": false, "zero": false, "padding": 0},
"axis": {"title": null, "orient": "right", "format": ".5f", "values": [1.209,1.2125,1.216,1.2195,1.223,1.2265,1.23005,1.23355,1.23705,1.24055,1.24405,1.24755,1.25105,1.25455,1.25805,1.26155,1.26505,1.26855,1.27205,1.27555,1.27905,1.28255]}},
"text": {"field": "name", "type": "nominal"}
}
}
]
}
